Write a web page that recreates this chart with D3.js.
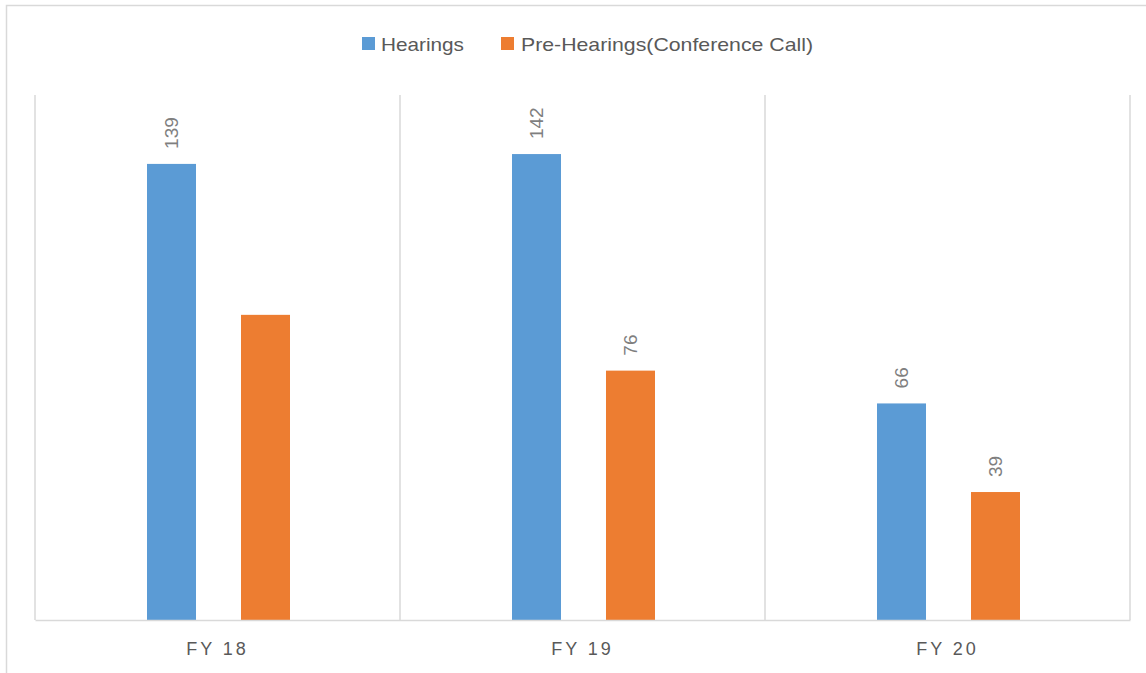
<!DOCTYPE html>
<html>
<head>
<meta charset="utf-8">
<script src="https://cdn.jsdelivr.net/npm/d3@7"></script>
<style>
  html, body { margin: 0; padding: 0; background: #ffffff; }
  svg { display: block; }
</style>
</head>
<body>
<svg id="chart" width="1146" height="673"></svg>
<script>
const categories = ["FY 18", "FY 19", "FY 20"];
const seriesNames = ["Hearings", "Pre-Hearings(Conference Call)"];
const hearings = [139, 142, 66];
const preHearings = [93, 76, 39];
const showLabel = [[true, false], [true, true], [true, true]];
const colors = ["#5b9bd5", "#ed7d31"];

const svg = d3.select("#chart");
const W = 1146, H = 673;
const plot = { left: 35, right: 1130, top: 95, bottom: 620 };

// outer chart frame
svg.append("rect")
  .attr("x", 6.5).attr("y", 5.5)
  .attr("width", W + 20).attr("height", H + 20)
  .attr("fill", "#ffffff").attr("stroke", "#d9d9d9").attr("stroke-width", 1.5);

const x0 = d3.scaleBand().domain(categories).range([plot.left, plot.right]).paddingInner(0).paddingOuter(0);
const x1 = d3.scaleBand().domain(seriesNames).range([1, x0.bandwidth() + 1])
  .paddingInner(0.4787).paddingOuter(1.181);
const y = d3.scaleLinear().domain([0, 160]).range([plot.bottom, plot.top]);

// category separators
const seps = categories.map(c => x0(c)).concat([plot.right]);
svg.append("g").selectAll("line").data(seps).join("line")
  .attr("x1", d => d).attr("x2", d => d)
  .attr("y1", plot.top).attr("y2", plot.bottom)
  .attr("stroke", "#d9d9d9").attr("stroke-width", 1.5);

// bars
const rows = categories.map((c, i) => ({ cat: c, vals: [hearings[i], preHearings[i]], show: showLabel[i] }));
const g = svg.append("g").selectAll("g").data(rows).join("g")
  .attr("transform", d => `translate(${x0(d.cat)},0)`);

g.selectAll("rect").data(d => d.vals.map((v, j) => ({ v, j, s: seriesNames[j] }))).join("rect")
  .attr("x", d => x1(d.s))
  .attr("width", x1.bandwidth())
  .attr("y", d => y(d.v))
  .attr("height", d => y(0) - y(d.v))
  .attr("fill", d => colors[d.j]);

// data labels (rotated)
g.selectAll("text").data(d => d.vals.map((v, j) => ({ v, j, s: seriesNames[j], show: d.show[j] })).filter(d => d.show)).join("text")
  .attr("transform", d => `translate(${x1(d.s) + x1.bandwidth() / 2},${y(d.v) - 15}) rotate(-90)`)
  .attr("dy", "0.36em")
  .attr("text-anchor", "start")
  .attr("font-family", "'Liberation Sans', Arial, sans-serif")
  .attr("font-size", 19)
  .attr("fill", "#7f7f7f")
  .text(d => d.v);

// baseline axis
const xAxis = d3.axisBottom(x0).tickSize(0).tickPadding(0);
const ax = svg.append("g").attr("transform", `translate(0,${plot.bottom})`).call(xAxis);
ax.select(".domain").attr("stroke", "#d9d9d9").attr("stroke-width", 1.5);
ax.selectAll("text")
  .attr("y", 35)
  .attr("dy", 0)
  .attr("font-family", "'Liberation Sans', Arial, sans-serif")
  .attr("font-size", 18)
  .attr("letter-spacing", "3px")
  .attr("fill", "#595959");

// legend
const legend = svg.append("g");
const legendItems = [
  { name: seriesNames[0], sx: 362, tx: 381, tw: 83, color: colors[0] },
  { name: seriesNames[1], sx: 501, tx: 521, tw: 292, color: colors[1] }
];
legendItems.forEach(it => {
  legend.append("rect").attr("x", it.sx).attr("y", 37).attr("width", 13).attr("height", 13).attr("fill", it.color);
  legend.append("text")
    .attr("x", it.tx).attr("y", 51)
    .attr("font-family", "'Liberation Sans', Arial, sans-serif")
    .attr("font-size", 19)
    .attr("fill", "#595959")
    .attr("textLength", it.tw)
    .attr("lengthAdjust", "spacingAndGlyphs")
    .text(it.name);
});
</script>
</body>
</html>
